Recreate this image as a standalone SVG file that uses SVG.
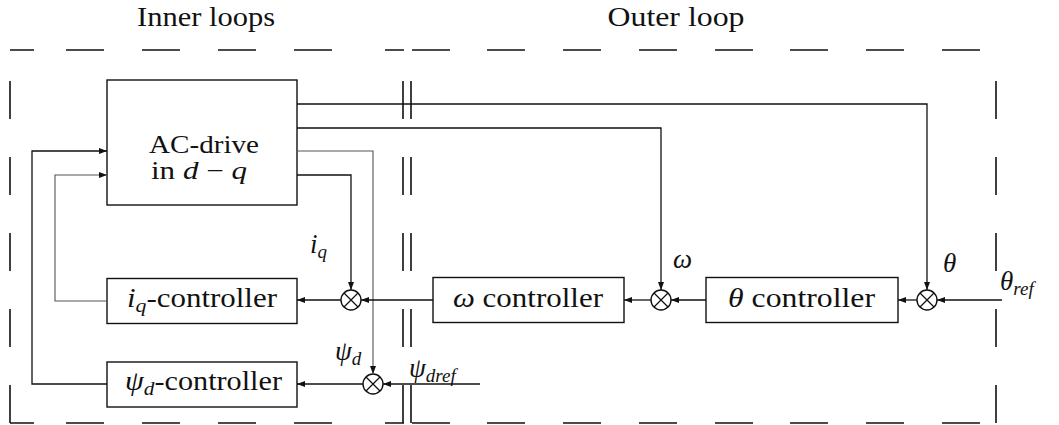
<svg xmlns="http://www.w3.org/2000/svg" width="1059" height="425" viewBox="0 0 1059 425">
<style>
text{font-family:"Liberation Serif","Times New Roman",Times,Tinos,"DejaVu Serif","Noto Serif",serif;fill:#111}
.t{font-size:27px}
.ac{font-size:25px}
.lbl{font-size:27px;font-style:italic}
.sub{font-size:19px;font-style:italic}
.i{font-style:italic}
.box{fill:#fff;stroke:#111;stroke-width:1.4}
.dash{fill:none;stroke:#111;stroke-width:1.6}
.wire{fill:none;stroke:#111;stroke-width:1.3}
.wire.light{stroke:#555;stroke-width:1.1}
.sum circle{fill:#fff;stroke:#111;stroke-width:1.4}
.sum path{stroke:#111;stroke-width:1.3}
</style>
<defs>
<marker id="ah" markerUnits="userSpaceOnUse" markerWidth="9" markerHeight="8" refX="8" refY="4" orient="auto">
<path d="M0,1 L8,4 L0,7 Z" fill="#111"/>
</marker>
</defs>

<g id="frames">
<text class="t" x="206" y="26" text-anchor="middle" textLength="138" lengthAdjust="spacingAndGlyphs">Inner loops</text>
<text class="t" x="676" y="26" text-anchor="middle" textLength="137" lengthAdjust="spacingAndGlyphs">Outer loop</text>
<path class="dash" d="M10,50H34 M66,50H104 M142,50H180 M218,50H256 M294,50H332 M385,50H404 M412,50H450 M487,50H525 M563,50H601 M639,50H677 M715,50H753 M790,50H828 M866,50H904 M942,50H980"/>
<path class="dash" d="M10,423H34 M66,423H104 M142,423H180 M218,423H256 M294,423H332 M385,423H404 M412,423H450 M487,423H525 M563,423H601 M639,423H677 M715,423H753 M790,423H828 M866,423H904 M942,423H980"/>
<path class="dash" d="M10,81V119 M10,157V195 M10,233V271 M10,309V347 M10,385V423"/>
<path class="dash" d="M996,81V119 M996,157V195 M996,233V271 M996,309V347 M996,385V423"/>
<path class="dash" d="M403,81V119 M403,157V195 M403,233V271 M403,309V347 M403,385V423 M411,81V119 M411,157V195 M411,233V271 M411,309V347 M411,385V423"/>
</g>

<g id="ac-drive">
<rect class="box" x="107" y="80" width="190" height="125"/>
<text class="ac" x="204" y="153" text-anchor="middle" textLength="110" lengthAdjust="spacingAndGlyphs">AC-drive</text>
<text class="ac" x="151" y="179" textLength="96" lengthAdjust="spacingAndGlyphs">in <tspan class="i">d</tspan> − <tspan class="i">q</tspan></text>
</g>

<g id="iq-controller">
<rect class="box" x="107" y="278.5" width="190" height="45"/>
<text class="t" x="127" y="307" textLength="150" lengthAdjust="spacingAndGlyphs"><tspan class="i">i</tspan><tspan class="sub" dy="5">q</tspan><tspan dy="-5">-controller</tspan></text>
</g>

<g id="psid-controller">
<rect class="box" x="107" y="362" width="190" height="45"/>
<text class="t" x="125" y="390" textLength="157" lengthAdjust="spacingAndGlyphs"><tspan class="i">ψ</tspan><tspan class="sub" dy="5">d</tspan><tspan dy="-5">-controller</tspan></text>
</g>

<g id="omega-controller">
<rect class="box" x="433" y="277.5" width="191" height="45"/>
<text class="t" x="453" y="307" textLength="150" lengthAdjust="spacingAndGlyphs"><tspan class="i">ω</tspan> controller</text>
</g>

<g id="theta-controller">
<rect class="box" x="706" y="277.5" width="192" height="45"/>
<text class="t" x="728" y="307" textLength="147" lengthAdjust="spacingAndGlyphs"><tspan class="i">θ</tspan> controller</text>
</g>

<g id="sum-iq" class="sum">
<circle cx="351" cy="300" r="10"/>
<path d="M344,293L358,307M358,293L344,307"/>
</g>
<g id="sum-psid" class="sum">
<circle cx="373" cy="384" r="10"/>
<path d="M366,377L380,391M380,377L366,391"/>
</g>
<g id="sum-omega" class="sum">
<circle cx="661" cy="300" r="10"/>
<path d="M654,293L668,307M668,293L654,307"/>
</g>
<g id="sum-theta" class="sum">
<circle cx="927" cy="300" r="10"/>
<path d="M920,293L934,307M934,293L920,307"/>
</g>

<g id="connectors">
<path class="wire" marker-end="url(#ah)" d="M297,104H927V290"/>
<path class="wire" marker-end="url(#ah)" d="M297,128H661V290"/>
<path class="wire light" marker-end="url(#ah)" d="M297,151H373V374"/>
<path class="wire" marker-end="url(#ah)" d="M297,175H351V290"/>
<path class="wire" marker-end="url(#ah)" d="M1002,300H937"/>
<path class="wire" marker-end="url(#ah)" d="M917,300H898"/>
<path class="wire" marker-end="url(#ah)" d="M706,300H671"/>
<path class="wire" marker-end="url(#ah)" d="M651,300H624"/>
<path class="wire" marker-end="url(#ah)" d="M433,300H361"/>
<path class="wire" marker-end="url(#ah)" d="M341,300H297"/>
<path class="wire" marker-end="url(#ah)" d="M480,384H383"/>
<path class="wire" marker-end="url(#ah)" d="M363,384H297"/>
<path class="wire light" marker-end="url(#ah)" d="M107,301H55V175H107"/>
<path class="wire" marker-end="url(#ah)" d="M107,384H32V151H107"/>
</g>

<g id="labels">
<text class="lbl" x="310" y="253">i<tspan class="sub" dy="5">q</tspan></text>
<text class="lbl" x="335" y="360">ψ<tspan class="sub" dy="5">d</tspan></text>
<text class="lbl" x="409" y="377">ψ<tspan class="sub" dy="5">dref</tspan></text>
<text class="lbl" x="673" y="268">ω</text>
<text class="lbl" x="943" y="272">θ</text>
<text class="lbl" x="1000" y="290">θ<tspan class="sub" dy="5">ref</tspan></text>
</g>
</svg>
